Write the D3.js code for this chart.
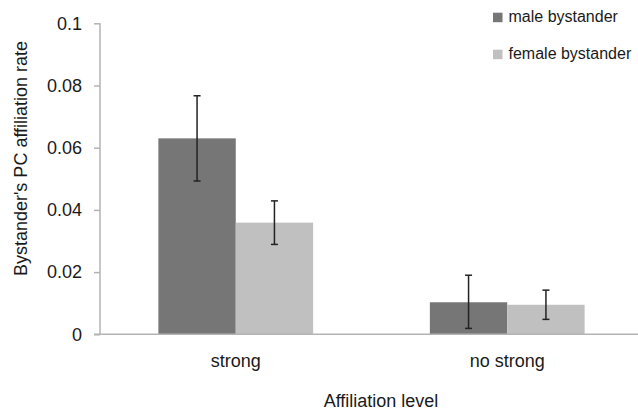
<!DOCTYPE html>
<html>
<head>
<meta charset="utf-8">
<script src="https://cdn.jsdelivr.net/npm/d3@7"></script>
<style>
  body { margin: 0; background: #fff; }
  text { font-family: "Liberation Sans", Arial, sans-serif; fill: #1a1a1a; }
</style>
</head>
<body>
<svg id="chart" width="638" height="411"></svg>
<script>
// affiliation levels on the x axis
var categories = ["strong", "no strong"];
var seriesNames = ["male bystander", "female bystander"];
// mean rate and error bar ends, per series, per category
var maleValues = [0.0630, 0.0103];
var maleLow = [0.0493, 0.0019];
var maleHigh = [0.0767, 0.0190];
var femaleValues = [0.0359, 0.0095];
var femaleLow = [0.0289, 0.0048];
var femaleHigh = [0.0429, 0.0142];
var yTicks = [0, 0.02, 0.04, 0.06, 0.08, 0.1];
var yTickLabels = ["0", "0.02", "0.04", "0.06", "0.08", "0.1"];

var colors = ["#767676", "#c0c0c0"];
var axisColor = "#b3b3b3";

var svg = d3.select("#chart");

// plot box (window.top is read-only, so no bare "top")
var plotLeft = 100, plotRight = 643, plotTop = 23.3, plotBottom = 334.3;

var x = d3.scaleBand()
    .domain(categories)
    .range([plotLeft, plotRight])
    .paddingInner(0.43)
    .paddingOuter(0.215);

var xSub = d3.scaleBand()
    .domain(seriesNames)
    .range([0, x.bandwidth()]);

var y = d3.scaleLinear()
    .domain([0, 0.1])
    .range([plotBottom, plotTop]);

var series = [
  {name: seriesNames[0], values: maleValues, low: maleLow, high: maleHigh, color: colors[0]},
  {name: seriesNames[1], values: femaleValues, low: femaleLow, high: femaleHigh, color: colors[1]}
];

// bars
series.forEach(function(s) {
  svg.append("g")
    .selectAll("rect")
    .data(categories)
    .enter()
    .append("rect")
    .attr("x", function(c) { return x(c) + xSub(s.name); })
    .attr("y", function(c, i) { return y(s.values[i]); })
    .attr("width", xSub.bandwidth())
    .attr("height", function(c, i) { return y(0) - y(s.values[i]); })
    .attr("fill", s.color);
});

// y axis
var yAxis = d3.axisLeft(y)
    .tickValues(yTicks)
    .tickFormat(function(d, i) { return yTickLabels[i]; })
    .tickSize(6)
    .tickPadding(12);

var gy = svg.append("g")
    .attr("transform", "translate(" + plotLeft + ",0)")
    .call(yAxis);
gy.select(".domain").attr("stroke", axisColor).attr("stroke-width", 1.5)
  .attr("d", "M0," + y(0) + "V" + y(0.1));
gy.selectAll(".tick line").attr("stroke", axisColor).attr("stroke-width", 1.5);
gy.selectAll(".tick text")
  .attr("font-size", 18)
  .attr("font-family", "Liberation Sans, Arial, sans-serif")
  .attr("fill", "#1a1a1a");

// x axis baseline
svg.append("line")
  .attr("x1", plotLeft - 6).attr("x2", plotRight)
  .attr("y1", y(0)).attr("y2", y(0))
  .attr("stroke", axisColor).attr("stroke-width", 1.5);

// category labels
svg.append("g")
  .selectAll("text")
  .data(categories)
  .enter()
  .append("text")
  .attr("x", function(c) { return x(c) + x.bandwidth() / 2; })
  .attr("y", 367)
  .attr("text-anchor", "middle")
  .attr("font-size", 18)
  .text(function(c) { return c; });

// error bars
series.forEach(function(s) {
  var g = svg.append("g").attr("stroke", "#222").attr("stroke-width", 1.5);
  categories.forEach(function(c, i) {
    var cx = x(c) + xSub(s.name) + xSub.bandwidth() / 2;
    g.append("line")
      .attr("x1", cx).attr("x2", cx)
      .attr("y1", y(s.low[i])).attr("y2", y(s.high[i]));
    [s.low[i], s.high[i]].forEach(function(v) {
      g.append("line")
        .attr("x1", cx - 3.5).attr("x2", cx + 3.5)
        .attr("y1", y(v)).attr("y2", y(v));
    });
  });
});

// axis titles
svg.append("text")
  .attr("x", 381)
  .attr("y", 407)
  .attr("text-anchor", "middle")
  .attr("font-size", 18)
  .text("Affiliation level");

svg.append("text")
  .attr("transform", "translate(27,158.5) rotate(-90)")
  .attr("text-anchor", "middle")
  .attr("font-size", 18)
  .text("Bystander's PC affiliation rate");

// legend
var legend = svg.append("g")
  .selectAll("g")
  .data(series)
  .enter()
  .append("g")
  .attr("transform", function(d, i) { return "translate(493," + (12.7 + i * 37) + ")"; });

legend.append("rect")
  .attr("width", 9.5)
  .attr("height", 9.5)
  .attr("fill", function(d) { return d.color; });

legend.append("text")
  .attr("x", 15.5)
  .attr("y", 9.6)
  .attr("font-size", 16)
  .text(function(d) { return d.name; });
</script>
</body>
</html>
